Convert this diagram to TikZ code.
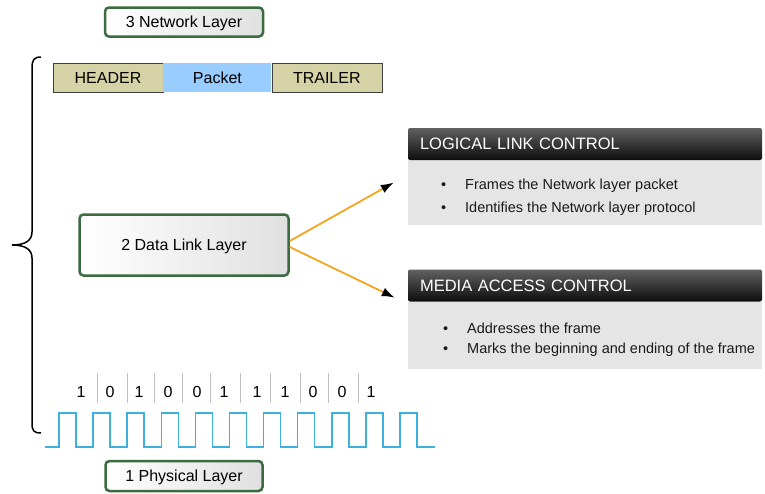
\documentclass[tikz,border=0pt]{standalone}
\usepackage{fontspec}
\setmainfont{Liberation Sans}
\usetikzlibrary{arrows.meta,positioning}
\definecolor{layergreen}{HTML}{3B6B40}
\definecolor{khaki}{HTML}{D5D2A5}
\definecolor{paleblue}{HTML}{99CCFF}
\definecolor{orange}{HTML}{F4A41E}
\definecolor{signal}{HTML}{3DB0E0}
\definecolor{panel}{HTML}{E5E5E5}

\begin{document}
\begin{tikzpicture}[x=1pt, y=-1pt, every node/.style={font=\fontsize{16}{18}\selectfont}, layer/.style={draw=layergreen, line width=2.5pt, rounded corners=4pt, left color=white, right color=black!12, inner sep=0pt, text depth=0pt}, field/.style={draw=black!75, minimum width=110pt, minimum height=29pt, inner sep=0pt}, head/.style={top color=black!62, bottom color=black!95, draw=none, rounded corners=2pt, text=white, text width=330pt, inner xsep=12pt, minimum height=32pt, align=left, font=\fontsize{16.5}{18}\selectfont}, body/.style={fill=panel, minimum width=354pt, inner sep=0pt}, item/.style={anchor=west, inner sep=0pt, text=black!90, font=\fontsize{14.5}{17}\selectfont}, link/.style={-{Latex[black,length=13pt,width=9pt]}, orange, line width=1.8pt}, sep/.style={black!25, line width=1pt}, wave/.style={signal, line width=1.5pt}]
\useasboundingbox (0,0) rectangle (765,493);
\node[layer, minimum width=158pt, minimum height=29pt] (net) at (184,22) {3 Network Layer};
\node[field, fill=khaki] (hdr) at (108,77.5) {HEADER};
\node[field, fill=paleblue, draw=none, right=0pt of hdr, minimum width=108pt] (pkt) {Packet};
\node[field, fill=khaki, right=0pt of pkt] (trl) {TRAILER};
\node[layer, minimum width=209pt, minimum height=61pt] (dll) at (184,245) {2 Data Link Layer};
\node[layer, minimum width=157pt, minimum height=30pt] (phy) at (184,476) {1 Physical Layer};
% sublayers
\node[body, minimum height=65pt] (llcbody) at (585,192.5) {};
\node[head] (llchead) at (585,144) {LOGICAL LINK CONTROL};
\node[item] (llc1) at (441,186) {\makebox[24pt][l]{\textbullet}Frames the Network layer packet};
\node[item] (llc2) at (441,209) {\makebox[24pt][l]{\textbullet}Identifies the Network layer protocol};
\node[body, minimum height=67pt] (macbody) at (585,335) {};
\node[head] (machead) at (585,285.5) {MEDIA ACCESS CONTROL};
\node[item] (mac1) at (443,328) {\makebox[24pt][l]{\textbullet}Addresses the frame};
\node[item] (mac2) at (443,350) {\makebox[24pt][l]{\textbullet}Marks the beginning and ending of the frame};
\draw[link] ([yshift=4pt]dll.east) -- ([xshift=-14pt,yshift=10pt]llcbody.west);
\draw[link] ([yshift=-2pt]dll.east) -- ([xshift=-13pt,yshift=4pt]machead.south west);
% bits and signal
\foreach \x/\b [count=\i] in {81/1,110/0,139/1,168/0,197/0,224/1,257/1,285/1,313/0,342/0,371/1}
  \node (b\i) at (\x,392) {\b};
\foreach \x in {97,127,154,182,210,240,270,300,328,358}
  \draw[sep] (\x,373) -- (\x,403);
\draw[wave] (45,447) \foreach \i in {0,...,10} { -- ({59+34.1*\i},447) -- ({59+34.1*\i},413) -- ({76+34.1*\i},413) -- ({76+34.1*\i},447) } -- (435,447);
\draw[line width=1.5pt] (41,57) .. controls (34,57) and (32,60) .. (32,68) -- (32,232) .. controls (32,240) and (26,245) .. (12,245) .. controls (26,245) and (32,250) .. (32,258) -- (32,423) .. controls (32,431) and (34,433) .. (41,433);
\end{tikzpicture}
\end{document}
